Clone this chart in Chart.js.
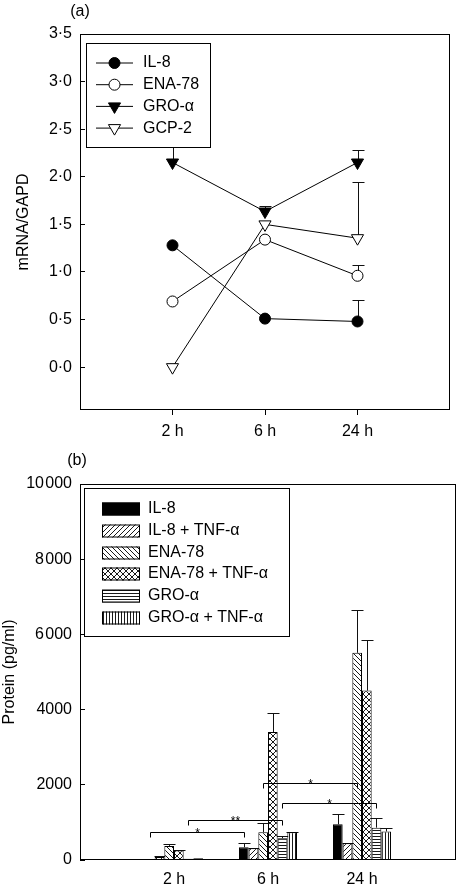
<!DOCTYPE html>
<html><head><meta charset="utf-8">
<script src="https://cdn.jsdelivr.net/npm/chart.js@4/dist/chart.umd.min.js"></script>
<style>
html,body{margin:0;padding:0;background:#fff;}
#wrapA{position:absolute;left:0;top:0;width:458px;height:445px;}
#wrapB{position:absolute;left:0;top:445px;width:458px;height:445px;}
</style></head><body>
<div id="wrapA"><canvas id="chartA" width="458" height="445"></canvas></div>
<div id="wrapB"><canvas id="chartB" width="458" height="445"></canvas></div>
<script>
// ---------------- data ----------------
const timeLabels = ['2 h', '6 h', '24 h'];
const timePositions = [0, 1, 2];

// panel (a): mRNA/GAPD
const mrnaTicks = [0, 0.5, 1, 1.5, 2, 2.5, 3, 3.5];
const il8Mrna = [1.28, 0.51, 0.48];
const il8MrnaErr = [null, null, 0.71];
const ena78Mrna = [0.69, 1.34, 0.96];
const ena78MrnaErr = [null, null, 1.07];
const groMrna = [2.15, 1.635, 2.15];
const groMrnaErr = [2.45, 1.69, 2.28];
const gcp2Mrna = [0.0, 1.50, 1.355];
const gcp2MrnaErr = [null, null, 1.95];

// panel (b): protein (pg/ml)
const proteinTicks = [0, 2000, 4000, 6000, 8000, 10000];
const proteinTickLabels = ['0', '2000', '4000', '6\u200a000', '8\u200a000', '10\u200a000'];
const il8Protein = [10, 340, 950];
const il8ProteinErr = [null, 460, 1220];
const il8TnfProtein = [80, 310, 445];
const il8TnfProteinErr = [105, 330, 460];
const ena78Protein = [375, 740, 5510];
const ena78ProteinErr = [415, 995, 6660];
const ena78TnfProtein = [250, 3405, 4505];
const ena78TnfProteinErr = [260, 3920, 5840];
const groProtein = [30, 580, 860];
const groProteinErr = [null, 640, 1125];
const groTnfProtein = [45, 735, 760];
const groTnfProteinErr = [null, 745, 860];

// significance brackets (series index, from time, to time, level, mark)
const sigSeries = [0, 4, 2, 4];
const sigFrom = [0, 0, 1, 1];
const sigTo = [1, 1, 2, 2];
const sigLevel = [750, 1070, 2035, 1510];
const sigMark = ['*', '**', '*', '*'];

// ---------------- helpers ----------------
const FONT = "'Liberation Sans', Arial, Helvetica, sans-serif";
Chart.defaults.font.family = FONT;
Chart.defaults.font.size = 16;
Chart.defaults.color = '#000';

function toXY(vals) { return timePositions.map((t, i) => ({ x: t, y: vals[i] })); }

function makePattern(kind) {
  const s = (kind === 'horiz' || kind === 'vert') ? 3 : (kind === 'cross' ? 6 : 5);
  const c = document.createElement('canvas');
  c.width = s; c.height = s;
  const g = c.getContext('2d');
  g.fillStyle = '#fff'; g.fillRect(0, 0, s, s);
  g.strokeStyle = '#000'; g.lineWidth = 0.9;
  g.beginPath();
  if (kind === 'fwd' || kind === 'cross') {
    g.moveTo(-1, s + 1); g.lineTo(s + 1, -1);
    g.moveTo(-1, 1); g.lineTo(1, -1);
    g.moveTo(s - 1, s + 1); g.lineTo(s + 1, s - 1);
  }
  if (kind === 'back' || kind === 'cross') {
    g.moveTo(-1, -1); g.lineTo(s + 1, s + 1);
    g.moveTo(s - 1, -1); g.lineTo(s + 1, 1);
    g.moveTo(-1, s - 1); g.lineTo(1, s + 1);
  }
  if (kind === 'horiz') { g.moveTo(0, 1.5); g.lineTo(s, 1.5); }
  if (kind === 'vert') { g.moveTo(1.5, 0); g.lineTo(1.5, s); }
  g.stroke();
  return g.createPattern(c, 'repeat');
}

// ---------------- plugins ----------------
const errorBars = {
  id: 'errorBars',
  beforeDatasetsDraw(chart, args, o) {
    const ctx = chart.ctx;
    ctx.save();
    ctx.strokeStyle = o.color; ctx.lineWidth = o.width;
    chart.data.datasets.forEach((ds, di) => {
      if (!ds.errorTop) return;
      const meta = chart.getDatasetMeta(di);
      const ys = chart.scales[meta.yAxisID];
      meta.data.forEach((el, i) => {
        const e = ds.errorTop[i];
        if (e == null) return;
        const yTop = ys.getPixelForValue(e);
        const x = Math.round(el.x) + 0.5;
        const yt = Math.round(yTop) + 0.5;
        ctx.beginPath();
        ctx.moveTo(x, el.y); ctx.lineTo(x, yt);
        ctx.moveTo(x - o.cap, yt); ctx.lineTo(x + o.cap, yt);
        ctx.stroke();
      });
    });
    ctx.restore();
  }
};

const panelDecor = {
  id: 'panelDecor',
  afterDraw(chart, args, o) {
    const ctx = chart.ctx, a = chart.chartArea;
    ctx.save();
    ctx.strokeStyle = '#000'; ctx.lineWidth = 1;
    ctx.strokeRect(Math.round(a.left) + 0.5, Math.round(a.top) + 0.5,
      Math.round(a.right - a.left) - 1, Math.round(a.bottom - a.top) - 1);
    ctx.fillStyle = '#000';
    ctx.font = '16px ' + FONT;
    ctx.textAlign = 'center'; ctx.textBaseline = 'middle';
    ctx.fillText(o.tag, o.tagX, o.tagY);
    ctx.restore();
  }
};

const lineLegend = {
  id: 'lineLegend',
  afterDatasetsDraw(chart, args, o) {
    const ctx = chart.ctx;
    ctx.save();
    ctx.fillStyle = '#fff';
    ctx.fillRect(o.x, o.y, o.w, o.h);
    ctx.strokeStyle = '#000'; ctx.lineWidth = 1;
    ctx.strokeRect(o.x + 0.5, o.y + 0.5, o.w, o.h);
    chart.data.datasets.forEach((ds, i) => {
      const y = o.y + o.first + i * o.step;
      ctx.strokeStyle = '#000'; ctx.lineWidth = 1;
      ctx.beginPath(); ctx.moveTo(o.x + o.lineX1, y); ctx.lineTo(o.x + o.lineX2, y); ctx.stroke();
      ctx.fillStyle = ds.pointBackgroundColor; ctx.strokeStyle = ds.pointBorderColor;
      Chart.helpers.drawPoint(ctx, { pointStyle: ds.pointStyle, rotation: ds.pointRotation || 0,
        radius: ds.pointRadius, borderWidth: 1 }, o.x + (o.lineX1 + o.lineX2) / 2, y);
      ctx.fillStyle = '#000';
      ctx.font = '16px ' + FONT; ctx.textAlign = 'left'; ctx.textBaseline = 'middle';
      ctx.fillText(ds.label, o.x + o.textX, y);
    });
    ctx.restore();
  }
};

const barLegend = {
  id: 'barLegend',
  afterDatasetsDraw(chart, args, o) {
    const ctx = chart.ctx;
    ctx.save();
    ctx.fillStyle = '#fff';
    ctx.fillRect(o.x, o.y, o.w, o.h);
    ctx.strokeStyle = '#000'; ctx.lineWidth = 1;
    ctx.strokeRect(o.x + 0.5, o.y + 0.5, o.w, o.h);
    chart.data.datasets.forEach((ds, i) => {
      const y = Math.round(o.y + o.first + i * o.step);
      ctx.fillStyle = ds.backgroundColor;
      ctx.fillRect(o.x + o.swX, y - o.swH / 2, o.swW, o.swH);
      ctx.strokeStyle = '#000'; ctx.lineWidth = 1;
      ctx.strokeRect(o.x + o.swX + 0.5, y - o.swH / 2 + 0.5, o.swW - 1, o.swH - 1);
      ctx.fillStyle = '#000';
      ctx.font = '16px ' + FONT; ctx.textAlign = 'left'; ctx.textBaseline = 'middle';
      ctx.fillText(ds.label, o.x + o.textX, y);
    });
    ctx.restore();
  }
};

const sigBrackets = {
  id: 'sigBrackets',
  afterDatasetsDraw(chart, args, o) {
    const ctx = chart.ctx, ys = chart.scales.y;
    ctx.save();
    ctx.strokeStyle = '#000'; ctx.lineWidth = 1;
    sigSeries.forEach((di, k) => {
      const meta = chart.getDatasetMeta(di);
      const x1 = Math.round(meta.data[sigFrom[k]].x) + 0.5;
      const x2 = Math.round(meta.data[sigTo[k]].x) + 0.5;
      const y = Math.round(ys.getPixelForValue(sigLevel[k])) + 0.5;
      ctx.beginPath();
      ctx.moveTo(x1, y + o.drop); ctx.lineTo(x1, y); ctx.lineTo(x2, y); ctx.lineTo(x2, y + o.drop);
      ctx.stroke();
      ctx.fillStyle = '#000';
      ctx.font = '12px ' + FONT; ctx.textAlign = 'center'; ctx.textBaseline = 'alphabetic';
      ctx.fillText(sigMark[k], (x1 + x2) / 2, y + 4);
    });
    ctx.restore();
  }
};

// ---------------- chart (a) ----------------
const pointDs = (label, vals, errs, style, fill, radius) => ({
  label, data: toXY(vals), errorTop: errs,
  borderColor: '#000', borderWidth: 1, fill: false, tension: 0,
  pointStyle: style, pointRotation: style === 'triangle' ? 180 : 0,
  pointRadius: radius, pointBackgroundColor: fill, pointBorderColor: '#000', pointBorderWidth: 1
});

new Chart(document.getElementById('chartA'), {
  type: 'line',
  data: {
    datasets: [
      pointDs('IL-8', il8Mrna, il8MrnaErr, 'circle', '#000', 5.5),
      pointDs('ENA-78', ena78Mrna, ena78MrnaErr, 'circle', '#fff', 5.5),
      pointDs('GRO-\u03b1', groMrna, groMrnaErr, 'triangle', '#000', 7),
      pointDs('GCP-2', gcp2Mrna, gcp2MrnaErr, 'triangle', '#fff', 7)
    ]
  },
  options: {
    responsive: false, animation: false, devicePixelRatio: 1,
    layout: { padding: { top: 34, right: 2, left: 0, bottom: 0 } },
    plugins: {
      legend: { display: false }, tooltip: { enabled: false },
      errorBars: { color: '#111', width: 1, cap: 6 },
      panelDecor: { tag: '(a)', tagX: 80, tagY: 12 },
      lineLegend: { x: 86, y: 43, w: 124, h: 104, first: 20, step: 21.7, lineX1: 10, lineX2: 47, textX: 57 }
    },
    scales: {
      x: {
        type: 'linear', min: -1, max: 3,
        afterBuildTicks: s => { s.ticks = timePositions.map(v => ({ value: v })); },
        afterFit: s => { s.height = 35; },
        grid: { drawOnChartArea: false, drawTicks: true, tickLength: 5, color: '#000' },
        border: { display: false },
        ticks: { padding: 7.4, autoSkip: false, maxRotation: 0, color: '#000', font: { size: 16 },
          callback: v => timeLabels[timePositions.indexOf(v)] }
      },
      y: {
        type: 'linear', min: -0.45, max: 3.5,
        afterBuildTicks: s => { s.ticks = mrnaTicks.map(v => ({ value: v })); },
        afterFit: s => { s.width = 80; },
        grid: { drawOnChartArea: false, drawTicks: true, tickLength: -5, color: '#000' },
        border: { display: false },
        ticks: { padding: 13, color: '#000', font: { size: 16 },
          callback: v => v.toFixed(1).replace('.', '\u00b7') },
        title: { display: true, text: 'mRNA/GAPD', color: '#000', font: { size: 16 }, padding: { top: 14.4, bottom: 0 } }
      }
    }
  },
  plugins: [errorBars, lineLegend, panelDecor]
});

// ---------------- chart (b) ----------------
const barDs = (label, vals, errs, bg) => ({
  label, data: toXY(vals), errorTop: errs,
  backgroundColor: bg, borderColor: '#000', borderWidth: 1
});

new Chart(document.getElementById('chartB'), {
  type: 'bar',
  data: {
    datasets: [
      barDs('IL-8', il8Protein, il8ProteinErr, '#000'),
      barDs('IL-8 + TNF-\u03b1', il8TnfProtein, il8TnfProteinErr, makePattern('fwd')),
      barDs('ENA-78', ena78Protein, ena78ProteinErr, makePattern('back')),
      barDs('ENA-78 + TNF-\u03b1', ena78TnfProtein, ena78TnfProteinErr, makePattern('cross')),
      barDs('GRO-\u03b1', groProtein, groProteinErr, makePattern('horiz')),
      barDs('GRO-\u03b1 + TNF-\u03b1', groTnfProtein, groTnfProteinErr, makePattern('vert'))
    ]
  },
  options: {
    responsive: false, animation: false, devicePixelRatio: 1,
    categoryPercentage: 0.617, barPercentage: 1.0,
    layout: { padding: { top: 39, right: 2, left: 0, bottom: 0 } },
    plugins: {
      legend: { display: false }, tooltip: { enabled: false },
      errorBars: { color: '#111', width: 1, cap: 6 },
      panelDecor: { tag: '(b)', tagX: 77, tagY: 16 },
      barLegend: { x: 84, y: 43, w: 205, h: 148, first: 21, step: 21.8, swX: 18, swW: 38, swH: 13, textX: 64 },
      sigBrackets: { drop: 5 }
    },
    scales: {
      x: {
        type: 'linear', min: -1, max: 3, offset: false,
        afterBuildTicks: s => { s.ticks = timePositions.map(v => ({ value: v })); },
        afterFit: s => { s.height = 30; },
        grid: { drawOnChartArea: false, drawTicks: false, offset: false, color: '#000' },
        border: { display: false },
        ticks: { padding: 10.4, autoSkip: false, maxRotation: 0, color: '#000', font: { size: 16 },
          callback: v => timeLabels[timePositions.indexOf(v)] }
      },
      y: {
        type: 'linear', min: 0, max: 10000,
        afterBuildTicks: s => { s.ticks = proteinTicks.map(v => ({ value: v })); },
        afterFit: s => { s.width = 80; },
        grid: { drawOnChartArea: false, drawTicks: true, tickLength: -5, color: '#000' },
        border: { display: false },
        ticks: { padding: 13, color: '#000', font: { size: 16 },
          callback: v => proteinTickLabels[proteinTicks.indexOf(v)] },
        title: { display: true, text: 'Protein (pg/ml)', color: '#000', font: { size: 16 }, padding: { top: 0, bottom: 0 } }
      }
    }
  },
  plugins: [errorBars, sigBrackets, barLegend, panelDecor]
});
</script>
</body></html>
